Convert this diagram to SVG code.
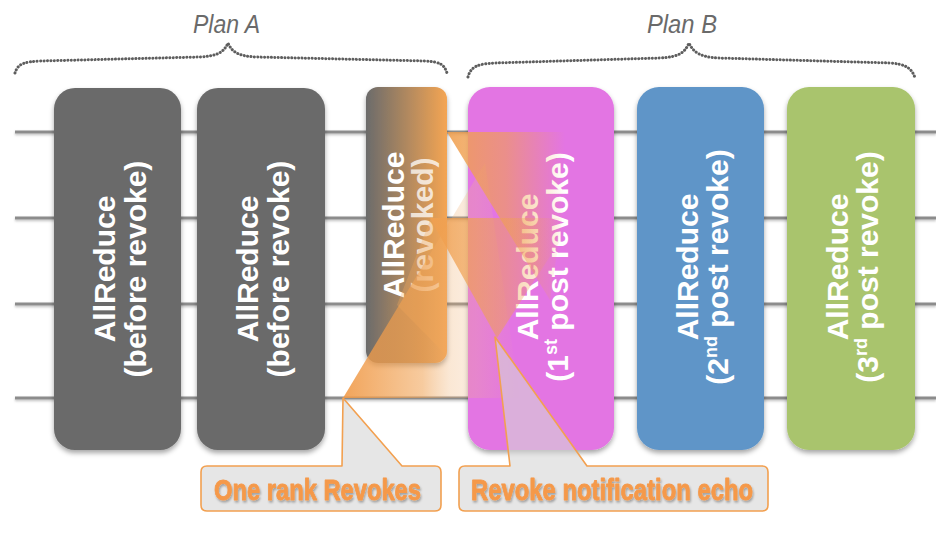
<svg xmlns="http://www.w3.org/2000/svg" width="936" height="534" viewBox="0 0 936 534">
<defs>
<style>
.brace{fill:none;stroke:#5e5e5e;stroke-width:3;stroke-dasharray:0.1 3.3;stroke-linecap:round}
.plan{font-family:"Liberation Sans",Arial,sans-serif;font-style:italic;font-size:26px;fill:#6a6a6a}
.rank{stroke:#8c8c8c;stroke-width:3;fill:none}
.bt{font-family:"Liberation Sans",Arial,sans-serif;font-weight:bold;font-size:30px;fill:#ffffff;text-anchor:middle}
.co{fill:#d6d6d6;fill-opacity:0.6;stroke:#f2a050;stroke-width:1.6;stroke-linejoin:round}
.ct{font-family:"Liberation Sans",Arial,sans-serif;font-weight:bold;font-size:30px;fill:#f5994a;stroke:#f5994a;stroke-width:0.9;stroke-linejoin:round}
</style>
<filter id="sh" x="-20%" y="-20%" width="140%" height="140%">
<feDropShadow dx="0" dy="3" stdDeviation="2.5" flood-color="#000" flood-opacity="0.35"/>
</filter>
<filter id="lsh" x="-5%" y="-100%" width="110%" height="400%">
<feDropShadow dx="0" dy="1.5" stdDeviation="1" flood-color="#000" flood-opacity="0.25"/>
</filter>
<filter id="tsh" x="-10%" y="-30%" width="120%" height="160%">
<feDropShadow dx="1" dy="2" stdDeviation="1.2" flood-color="#000" flood-opacity="0.3"/>
</filter>
<linearGradient id="gRev" x1="0" y1="0" x2="1" y2="0">
<stop offset="0" stop-color="#6b6b6b"/>
<stop offset="1" stop-color="#f4a553"/>
</linearGradient>
<linearGradient id="gA" gradientUnits="userSpaceOnUse" x1="343" y1="0" x2="520" y2="0">
<stop offset="0" stop-color="#f09a48" stop-opacity="0.9"/>
<stop offset="0.45" stop-color="#f0a050" stop-opacity="0.55"/>
<stop offset="0.6" stop-color="#f0b070" stop-opacity="0.3"/>
<stop offset="0.75" stop-color="#f0b888" stop-opacity="0.25"/>
<stop offset="1" stop-color="#f0b888" stop-opacity="0"/>
</linearGradient>
<linearGradient id="gB" gradientUnits="userSpaceOnUse" x1="447" y1="0" x2="565" y2="0">
<stop offset="0" stop-color="#f0a050" stop-opacity="0.9"/>
<stop offset="0.5" stop-color="#f0a050" stop-opacity="0.6"/>
<stop offset="1" stop-color="#f0a050" stop-opacity="0"/>
</linearGradient>
<linearGradient id="gC" gradientUnits="userSpaceOnUse" x1="430" y1="0" x2="565" y2="0">
<stop offset="0" stop-color="#f0a050" stop-opacity="0.85"/>
<stop offset="0.55" stop-color="#f0a050" stop-opacity="0.5"/>
<stop offset="1" stop-color="#f0a050" stop-opacity="0"/>
</linearGradient>
</defs>
<rect width="936" height="534" fill="#ffffff"/>

<g id="plan-a">
<path class="brace" d="M15,73 C18,63 25,62 40,61 L200,57 C218,56 224,52 228,43 C232,52 238,56 256,57 L425,61 C440,62 444,64 447,73"/>
<text class="plan" x="193" y="33" textLength="67" lengthAdjust="spacingAndGlyphs">Plan A</text>
</g>
<g id="plan-b">
<path class="brace" d="M468,77 C471,66 478,64 495,63 L660,58 C680,57 685,52 689,43 C693,52 700,57 718,58 L890,63 C905,64 912,68 915,78"/>
<text class="plan" x="647" y="33" textLength="70" lengthAdjust="spacingAndGlyphs">Plan B</text>
</g>

<g id="connectors" filter="url(#lsh)">
<line class="rank" x1="15" y1="132" x2="936" y2="132"/>
<line class="rank" x1="15" y1="218" x2="936" y2="218"/>
<line class="rank" x1="15" y1="304" x2="936" y2="304"/>
<line class="rank" x1="15" y1="398" x2="936" y2="398"/>
</g>

<g id="box1">
<rect x="54" y="88" width="127" height="362" rx="21" fill="#6a6a6a" filter="url(#sh)"/>
<text class="bt" transform="translate(117.5,269) rotate(-90)"><tspan x="0" y="-3">AllReduce</tspan><tspan x="0" y="28">(before revoke)</tspan></text>
</g>
<g id="box2">
<rect x="197" y="88" width="128" height="362" rx="21" fill="#6a6a6a" filter="url(#sh)"/>
<text class="bt" transform="translate(261,269) rotate(-90)"><tspan x="0" y="-3">AllReduce</tspan><tspan x="0" y="28">(before revoke)</tspan></text>
</g>
<g id="box3">
<rect x="366" y="87" width="81" height="276" rx="12" fill="url(#gRev)" filter="url(#sh)"/>
<text class="bt" transform="translate(406.5,225) rotate(-90)"><tspan x="0" y="-3">AllReduce</tspan><tspan x="0" y="26" fill-opacity="0.75">(revoked)</tspan></text>
</g>
<g id="box4">
<rect x="468" y="87" width="146" height="363" rx="22" fill="#e375e3" filter="url(#sh)"/>
<text class="bt" transform="translate(541,267) rotate(-90)"><tspan x="0" y="-3">AllReduce</tspan><tspan x="0" y="27">(1<tspan font-size="18" dy="-11">st</tspan><tspan dy="11"> post revoke)</tspan></tspan></text>
</g>
<g id="box5">
<rect x="637" y="87" width="127" height="363" rx="22" fill="#5f95c8" filter="url(#sh)"/>
<text class="bt" transform="translate(700.5,267) rotate(-90)"><tspan x="0" y="-3">AllReduce</tspan><tspan x="0" y="27">(2<tspan font-size="18" dy="-11">nd</tspan><tspan dy="11"> post revoke)</tspan></tspan></text>
</g>
<g id="box6">
<rect x="787" y="87" width="128" height="363" rx="22" fill="#a9c46d" filter="url(#sh)"/>
<text class="bt" transform="translate(851,267) rotate(-90)"><tspan x="0" y="-3">AllReduce</tspan><tspan x="0" y="27">(3<tspan font-size="18" dy="-11">rd</tspan><tspan dy="11"> post revoke)</tspan></tspan></text>
</g>

<g id="revoke-waves">
<polygon points="343,398 485,163 520,398" fill="url(#gA)"/>
<polygon points="397,305 431,218 447,218 447,356" fill="#f5a85a" fill-opacity="0.3"/>
<polygon points="447,132 575,132 550,300" fill="url(#gB)"/>
<polygon points="430,218 575,218 497,338" fill="url(#gC)"/>
</g>

<g id="callout-revokes">
<path class="co" d="M207,466 H342 L343,398 L402,466 H435 Q441,466 441,472 V505 Q441,511 435,511 H207 Q201,511 201,505 V472 Q201,466 207,466 Z"/>
<text class="ct" x="214" y="500" textLength="207" lengthAdjust="spacingAndGlyphs" filter="url(#tsh)">One rank Revokes</text>
</g>
<g id="callout-echo">
<path class="co" d="M465,466 H510 L495,337 L587,466 H762 Q768,466 768,472 V505 Q768,511 762,511 H465 Q459,511 459,505 V472 Q459,466 465,466 Z"/>
<text class="ct" x="471" y="500" textLength="282" lengthAdjust="spacingAndGlyphs" filter="url(#tsh)">Revoke notification echo</text>
</g>
</svg>
